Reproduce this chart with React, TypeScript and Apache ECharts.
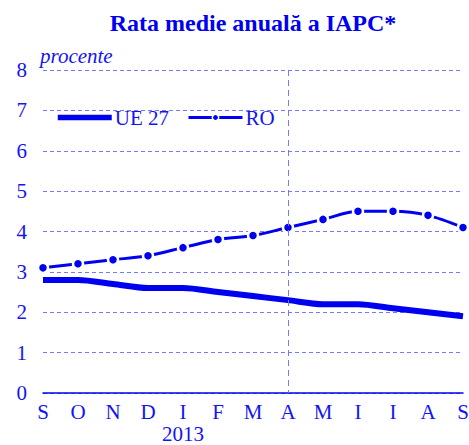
import React, { useEffect, useRef } from "react";
import * as echarts from "echarts";

const months = ["S", "O", "N", "D", "I", "F", "M", "A", "M", "I", "I", "A", "S"];
const yearLabel = "2013";
const yearIndex = 4;
const ue27 = [2.8, 2.8, 2.7, 2.6, 2.6, 2.5, 2.4, 2.3, 2.2, 2.2, 2.1, 2.0, 1.9];
const ro = [3.1, 3.2, 3.3, 3.4, 3.6, 3.8, 3.9, 4.1, 4.3, 4.5, 4.5, 4.4, 4.1];
const markerIndex = 7;

const BLUE = "#0000f0";
const TXT = "#1414f0";
const GRIDC = "#7878ff";
const FONT = "Liberation Serif";

export default function App() {
  const ref = useRef<HTMLDivElement>(null);
  useEffect(() => {
    if (!ref.current) return;
    const chart = echarts.init(ref.current, undefined, { renderer: "svg" });
    chart.setOption({
      animation: false,
      textStyle: { fontFamily: FONT },
      title: {
        text: "Rata medie anuală a IAPC*",
        left: 248,
        textAlign: "center",
        top: 6,
        textStyle: { fontFamily: FONT, fontWeight: "bold", fontSize: 24, color: BLUE },
      },
      legend: {
        left: 55,
        top: 107,
        padding: 0,
        itemWidth: 54,
        itemHeight: 8,
        itemGap: 18,
        textStyle: { fontFamily: FONT, fontSize: 21, color: TXT, padding: [0, 0, 0, -2] },
        data: [
          {
            name: "UE 27",
            itemStyle: { color: "rgba(0,0,0,0)", borderWidth: 0 },
            lineStyle: { color: BLUE, width: 5.5 },
          },
          {
            name: "RO",
            itemStyle: { color: BLUE, borderColor: "#ffffff", borderWidth: 1.5 },
            lineStyle: { color: BLUE, width: 3 },
          },
        ],
      },
      grid: { left: 43, right: 6, top: 70, bottom: 52, outerBoundsMode: "none", containLabel: false },
      xAxis: {
        type: "category",
        data: months,
        boundaryGap: false,
        axisLine: { lineStyle: { color: BLUE, width: 1.5 } },
        axisTick: { show: false },
        axisLabel: {
          interval: 0,
          margin: 8,
          fontFamily: FONT,
          fontSize: 21,
          color: TXT,
          lineHeight: 22,
          verticalAlign: "top",
          formatter: (v: string, i: number) => (i === yearIndex ? v + "\n" + yearLabel : v),
        },
      },
      yAxis: {
        type: "value",
        min: 0,
        max: 8,
        interval: 1,
        name: "procente",
        nameLocation: "end",
        nameGap: 4,
        nameTextStyle: { fontFamily: FONT, fontSize: 21, fontStyle: "italic", color: TXT, align: "left", padding: [0, 0, 0, -3] },
        axisLine: { show: false },
        axisTick: { show: false },
        axisLabel: { fontFamily: FONT, fontSize: 21, color: TXT, margin: 16 },
        splitLine: { lineStyle: { color: GRIDC, type: [4, 3], width: 1 } },
      },
      series: [
        {
          name: "UE 27",
          type: "line",
          data: ue27,
          smooth: 0.3,
          symbol: "none",
          lineStyle: { color: BLUE, width: 6 },
          itemStyle: { color: BLUE },
          markLine: {
            silent: true,
            symbol: "none",
            label: { show: false },
            lineStyle: { color: GRIDC, type: [6, 4], width: 1, opacity: 1 },
            data: [[{ xAxis: markerIndex, yAxis: 8 }, { xAxis: markerIndex, yAxis: 0 }]],
          },
        },
        {
          name: "RO",
          type: "line",
          data: ro,
          smooth: 0.3,
          symbol: "circle",
          symbolSize: 10,
          lineStyle: { color: BLUE, width: 3 },
          itemStyle: { color: BLUE, borderColor: "#ffffff", borderWidth: 2.5 },
        },
      ],
    });
    return () => chart.dispose();
  }, []);
  return <div ref={ref} style={{ width: 469, height: 445, position: "absolute", left: 0, top: 0 }} />;
}
